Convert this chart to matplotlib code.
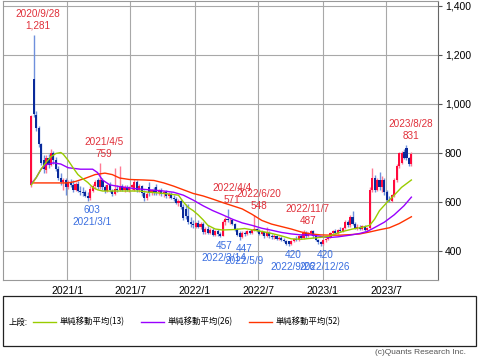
import matplotlib
matplotlib.use("Agg")
import matplotlib.pyplot as plt
import matplotlib.dates as mdates
from matplotlib.patches import Rectangle
from matplotlib.lines import Line2D
import numpy as np
import pandas as pd

# weekly candles, 2020/9/21 .. 2023/9/11
weeks = pd.date_range("2020-09-21", periods=156, freq="7D")

opens = [670, 1100, 955, 900, 835, 770, 730, 780, 750, 800, 770, 735, 700, 680, 690, 660, 680, 670, 650, 675,
         645, 640, 640, 625, 615, 645, 665, 690, 660, 690, 660, 645, 668, 645, 632, 655, 650, 665, 650, 660,
         648, 660, 650, 680, 650, 665, 635, 615, 660, 635, 648, 660, 640, 650, 632, 640, 625, 632, 618, 612,
         598, 605, 578, 570, 545, 520, 510, 500, 515, 500, 512, 478, 492, 475, 488, 465, 480, 470, 462, 520,
         530, 525, 528, 510, 488, 475, 458, 475, 468, 480, 475, 485, 490, 482, 470, 478, 460, 475, 462, 458,
         462, 450, 455, 445, 440, 440, 428, 440, 450, 445, 460, 452, 475, 462, 472, 480, 460, 445, 435, 428,
         445, 450, 458, 472, 480, 475, 488, 482, 495, 520, 505, 540, 512, 495, 500, 490, 502, 486, 495, 650,
         700, 650, 690, 660, 690, 640, 610, 605, 628, 690, 745, 760, 805, 820, 778, 755]
highs = [955, 1281, 970, 910, 840, 790, 790, 795, 815, 810, 785, 745, 720, 700, 700, 690, 695, 690, 680, 685,
         665, 660, 650, 640, 665, 672, 690, 700, 759, 700, 670, 675, 680, 655, 740, 670, 745, 675, 668, 670,
         665, 675, 695, 688, 672, 670, 650, 640, 680, 655, 660, 672, 655, 658, 645, 648, 640, 640, 630, 620,
         612, 612, 590, 590, 590, 540, 525, 520, 525, 520, 520, 500, 505, 495, 495, 485, 490, 478, 525, 540,
         571, 535, 532, 515, 495, 482, 480, 480, 485, 488, 490, 548, 495, 490, 485, 482, 500, 480, 470, 468,
         466, 460, 460, 452, 445, 442, 445, 455, 460, 465, 470, 487, 480, 478, 485, 485, 465, 450, 440, 450,
         455, 462, 478, 485, 490, 492, 498, 500, 525, 528, 548, 565, 520, 510, 505, 508, 508, 500, 660, 738,
         712, 700, 722, 705, 700, 650, 625, 632, 700, 755, 805, 808, 815, 831, 785, 805]
lows = [660, 945, 890, 825, 750, 720, 720, 740, 745, 755, 725, 690, 670, 650, 630, 655, 660, 640, 645, 640,
        630, 625, 620, 603, 610, 640, 655, 655, 655, 650, 635, 640, 640, 625, 628, 640, 645, 645, 640, 645,
        640, 650, 645, 640, 640, 625, 605, 610, 625, 630, 630, 628, 630, 625, 620, 618, 615, 612, 605, 590,
        585, 570, 525, 530, 510, 500, 495, 495, 495, 490, 470, 470, 468, 470, 460, 460, 462, 457, 460, 505,
        520, 512, 505, 480, 460, 447, 455, 462, 465, 470, 470, 480, 478, 465, 465, 455, 458, 455, 450, 448,
        445, 445, 440, 435, 425, 420, 425, 435, 440, 440, 448, 450, 455, 458, 465, 455, 440, 430, 420, 425,
        438, 445, 452, 465, 470, 470, 478, 478, 490, 500, 500, 505, 490, 485, 485, 485, 482, 478, 490, 640,
        640, 645, 650, 640, 630, 600, 600, 600, 620, 680, 740, 755, 775, 770, 745, 748]
closes = [950, 960, 900, 835, 760, 735, 780, 750, 800, 770, 735, 700, 680, 690, 660, 680, 670, 650, 675, 645,
          640, 635, 625, 615, 655, 665, 680, 660, 690, 660, 645, 668, 648, 632, 655, 650, 665, 650, 660, 648,
          660, 670, 680, 650, 665, 635, 615, 632, 635, 648, 638, 640, 650, 632, 640, 625, 632, 618, 612, 598,
          605, 578, 535, 545, 520, 510, 505, 515, 500, 512, 478, 492, 475, 488, 465, 480, 470, 462, 520, 530,
          525, 528, 510, 488, 465, 458, 475, 468, 480, 475, 485, 490, 482, 470, 478, 460, 475, 462, 458, 462,
          450, 455, 445, 440, 430, 428, 440, 450, 445, 460, 452, 475, 462, 472, 480, 460, 445, 435, 428, 445,
          450, 458, 472, 480, 475, 488, 482, 495, 520, 505, 540, 512, 495, 500, 490, 502, 486, 495, 650, 700,
          650, 690, 660, 690, 640, 610, 605, 628, 690, 745, 800, 800, 780, 778, 755, 795]

# moving averages (week index, value)
ma13_idx = [0, 2, 4, 6, 8, 10, 12, 13, 15, 17, 19, 21, 23, 25, 27, 29, 32, 36, 40, 44, 48, 52, 56, 60, 62, 64, 66,
            68, 70, 72, 75, 78, 83, 87, 91, 94, 98, 102, 106, 110, 114, 118, 121, 124, 127, 131, 135, 138, 140,
            142, 145, 148, 151, 155]
ma13_val = [670, 700, 735, 762, 785, 798, 802, 795, 770, 740, 712, 695, 680, 660, 650, 645, 645, 645, 645, 645,
            640, 637, 633, 628, 600, 578, 565, 548, 528, 505, 490, 486, 488, 492, 485, 480, 472, 462, 450, 448,
            452, 456, 460, 470, 480, 490, 497, 505, 530, 565, 598, 628, 660, 690]
ma26_idx = [0, 2, 4, 6, 9, 12, 15, 20, 25, 27, 29, 32, 36, 42, 48, 54, 58, 62, 66, 70, 74, 78, 82, 86, 90, 94, 98,
            102, 106, 110, 114, 118, 121, 125, 130, 134, 137, 140, 144, 148, 152, 155]
ma26_val = [675, 700, 735, 752, 760, 755, 740, 734, 734, 720, 690, 670, 663, 655, 650, 645, 640, 628, 608, 585,
            565, 548, 530, 515, 505, 493, 485, 476, 470, 466, 466, 460, 455, 458, 465, 472, 480, 496, 518, 548,
            585, 620]
ma52_idx = [0, 15, 18, 22, 26, 30, 33, 36, 40, 46, 50, 54, 58, 62, 66, 70, 74, 78, 82, 86, 90, 94, 98, 102, 106,
            110, 114, 118, 122, 126, 130, 134, 138, 142, 146, 150, 155]
ma52_val = [678, 678, 684, 697, 712, 718, 712, 698, 692, 690, 688, 678, 665, 650, 635, 625, 612, 598, 585, 572,
            550, 525, 510, 500, 490, 478, 470, 466, 465, 465, 467, 470, 478, 487, 495, 512, 540]

high_marks = ["2020-09-28", "2021-04-05", "2022-04-04", "2022-06-20", "2022-11-07", "2023-08-28"]
low_marks = ["2021-03-01", "2022-03-14", "2022-05-09", "2022-09-26", "2022-12-26"]

yticks = [400, 600, 800, 1000, 1200, 1400]
xticks = ["2021-01-01", "2021-07-01", "2022-01-01", "2022-07-01", "2023-01-01", "2023-07-01"]
xtick_labels = ["2021/1", "2021/7", "2022/1", "2022/7", "2023/1", "2023/7"]

UP, UP_W = "#ff0a3c", "#ff7a94"
DN, DN_W = "#0a2a9a", "#6f90dc"
GRID = "#a8a8a8"

fig = plt.figure(figsize=(4.8, 3.62), dpi=100)
ax = fig.add_axes([0.00625, 0.2265, 0.90625, 0.7707])

o = np.array(opens); h = np.array(highs); l = np.array(lows); c = np.array(closes)
up = c >= o
x = mdates.date2num(weeks)

ax.vlines(x[up], l[up], h[up], color=UP_W, lw=1.0, zorder=3)
ax.vlines(x[~up], l[~up], h[~up], color=DN_W, lw=1.0, zorder=3)
body_lo = np.minimum(o, c)
body_h = np.maximum(np.abs(c - o), 2)
ax.bar(x[up], body_h[up], bottom=body_lo[up], width=6, color=UP, zorder=4)
ax.bar(x[~up], body_h[~up], bottom=body_lo[~up], width=6, color=DN, zorder=4)

ax.plot(x[ma52_idx], ma52_val, color="#ff3300", lw=1.0, zorder=5)
ax.plot(x[ma26_idx], ma26_val, color="#9900ff", lw=1.0, zorder=5)
ax.plot(x[ma13_idx], ma13_val, color="#99cc00", lw=1.0, zorder=5)

lab_font = dict(family="Liberation Sans", fontsize=7.2)
for d in high_marks:
    i = weeks.get_loc(pd.Timestamp(d))
    t = pd.Timestamp(d)
    ax.annotate(f"{t.year}/{t.month}/{t.day}\n{highs[i]:,}", (x[i], highs[i]), xytext=(3, 3),
                textcoords="offset points", ha="center", va="bottom", color="#e0303a",
                linespacing=1.25, zorder=6, **lab_font)
for d in low_marks:
    i = weeks.get_loc(pd.Timestamp(d))
    t = pd.Timestamp(d)
    ax.annotate(f"{lows[i]:,}\n{t.year}/{t.month}/{t.day}", (x[i], lows[i]), xytext=(3, -3),
                textcoords="offset points", ha="center", va="top", color="#3a6ee0",
                linespacing=1.25, zorder=6, **lab_font)

ax.set_xlim(mdates.date2num(pd.Timestamp("2020-07-02")), mdates.date2num(pd.Timestamp("2023-11-26")))
ax.set_ylim(282, 1420)

ax.set_yticks(yticks)
ax.set_yticklabels([f"{v:,}" for v in yticks], family="Liberation Sans", fontsize=7.5)
ax.yaxis.tick_right()
ax.tick_params(axis="y", length=3, width=0.8, color="#555555", pad=2)
ax.set_xticks(mdates.date2num(pd.to_datetime(xticks)))
ax.set_xticklabels(xtick_labels, family="Liberation Sans", fontsize=7.5)
ax.tick_params(axis="x", length=0, pad=4)
ax.grid(True, color=GRID, lw=0.8)
ax.set_axisbelow(True)
for s in ax.spines.values():
    s.set_color("#999999")
    s.set_linewidth(0.8)
ax.spines["right"].set_color("#666666")

# legend box under the chart
fig.add_artist(Rectangle((0.00625, 0.0442), 0.985, 0.138, transform=fig.transFigure,
                         fill=False, edgecolor="#222222", lw=0.9))
ly = 0.1105
jp = ["Noto Sans CJK JP", "DejaVu Sans"]
fig.text(0.017, ly, "上段:", family=jp, fontsize=6, va="center")
for x0, col, txt in [(0.069, "#99cc00", "単純移動平均(13)"),
                     (0.294, "#9900ff", "単純移動平均(26)"),
                     (0.519, "#ff3300", "単純移動平均(52)")]:
    fig.add_artist(Line2D([x0, x0 + 0.047], [ly, ly], transform=fig.transFigure, color=col, lw=1.0))
    fig.text(x0 + 0.056, ly, txt, family=jp, fontsize=6, va="center")

fig.text(0.97, 0.016, "(c)Quants Research Inc.", family="Liberation Sans", fontsize=6,
         color="#555555", ha="right", va="bottom")

fig.savefig("out.png", dpi=100)
